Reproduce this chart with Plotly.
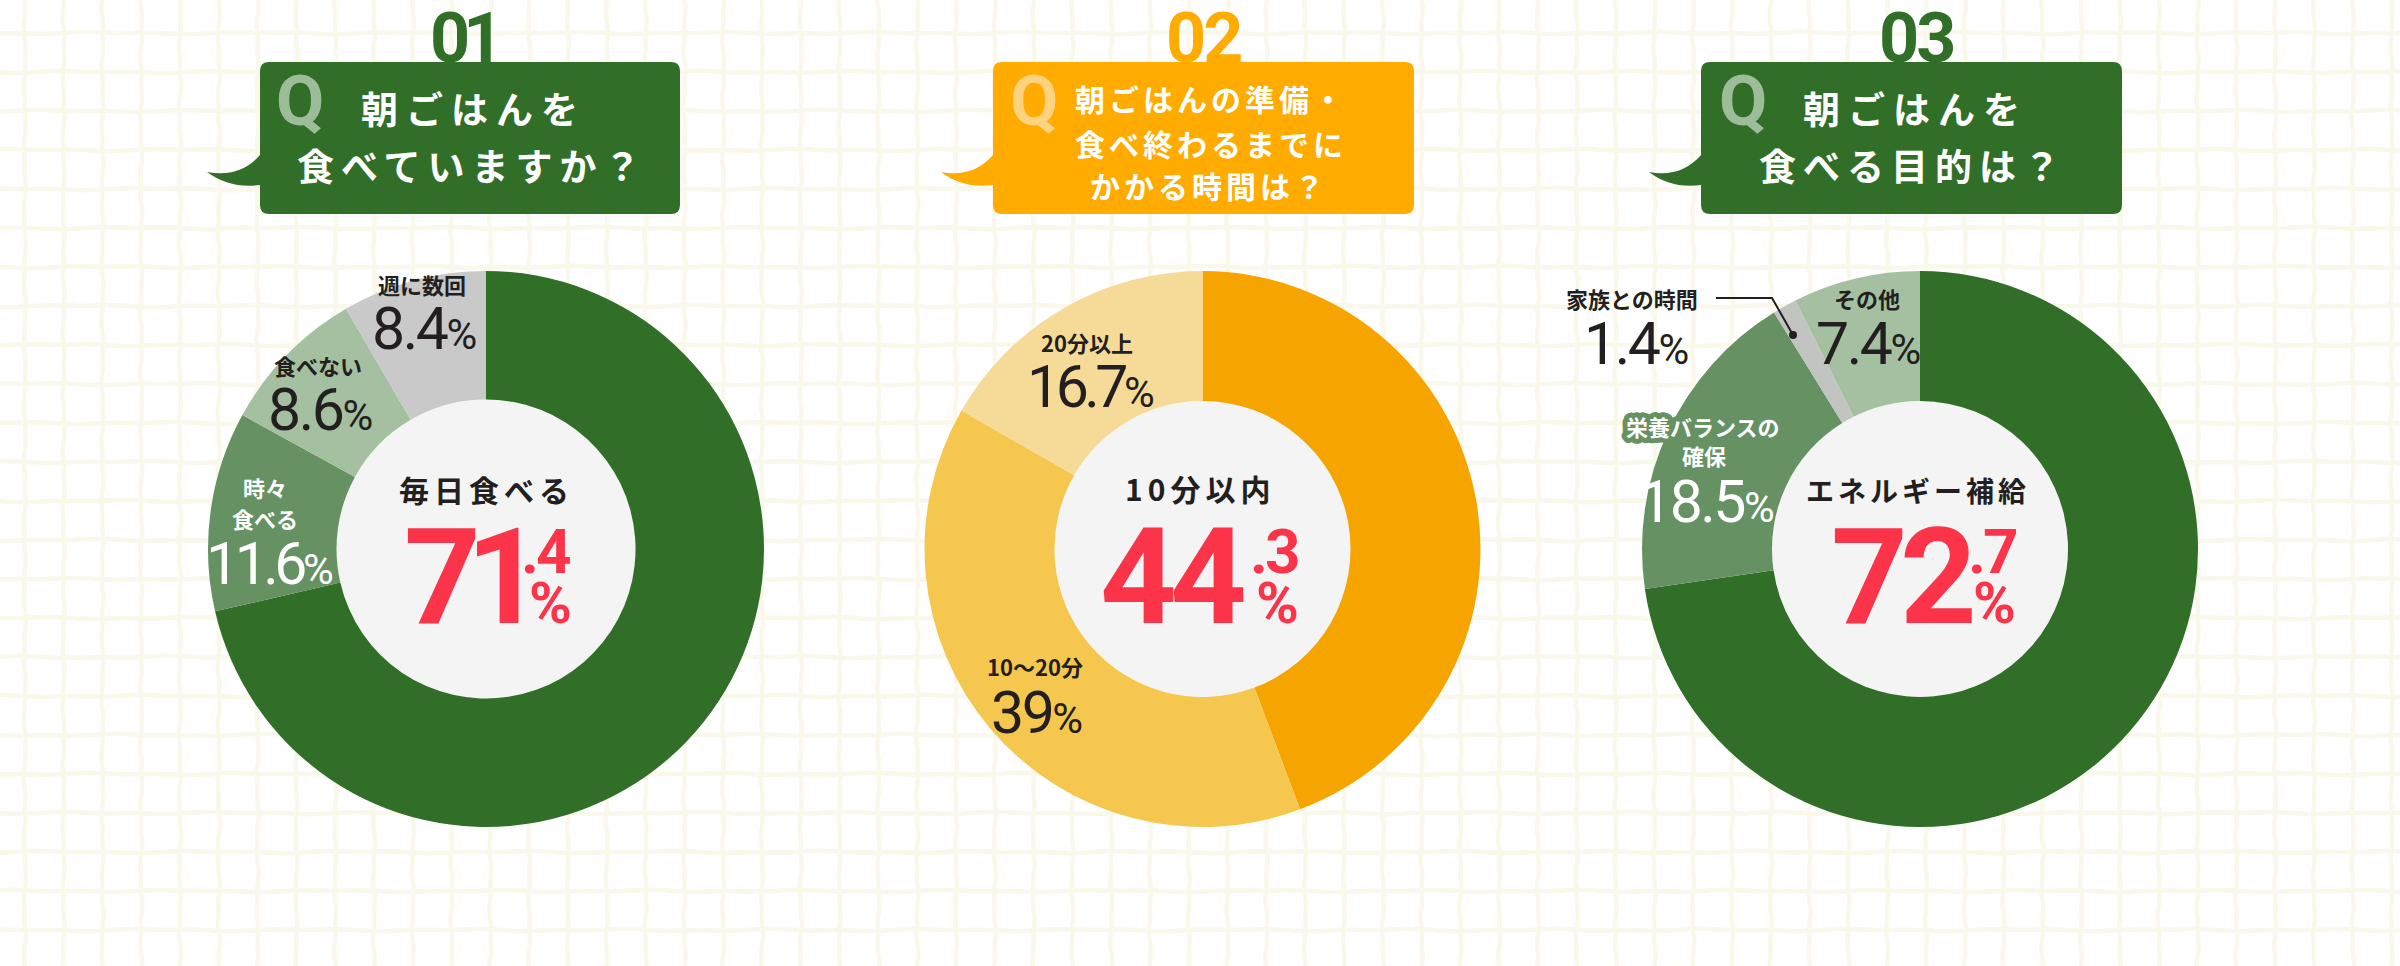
import numpy as np
import plotly.graph_objects as go

W, H = 2400, 966
CJK = "Noto Sans CJK JP"
NUM = "Roboto"
INK = "#231f20"
RED = "#fb344a"

# values
q1_labels = ["毎日食べる", "時々食べる", "食べない", "週に数回"]
q1_values = [71.4, 11.6, 8.6, 8.4]
q2_labels = ["10分以内", "10〜20分", "20分以上"]
q2_values = [44.3, 39, 16.7]
q3_labels = ["エネルギー補給", "栄養バランスの確保", "家族との時間", "その他"]
q3_values = [72.7, 18.5, 1.4, 7.4]

q1_colors = ["#316f28", "#659163", "#a4c0a1", "#c9c9c9"]
q2_colors = ["#f6a500", "#f5c74f", "#f6db98"]
q3_colors = ["#316f28", "#659163", "#c2c4c1", "#a4c0a1"]


def fx(x):
    return x / W


def fy(y):
    return 1 - y / H


def wobble(n, seed):
    # hand drawn look of the paper grid
    t = np.linspace(0, 1, n)
    return 0.7 * np.sin(t * 97 + seed) + 0.5 * np.sin(t * 211 + seed * 2.3)


def grid_path():
    parts = []
    for i, x0 in enumerate(np.arange(-14, W + 40, 38.8)):
        ys = np.linspace(0, H, 160)
        xs = x0 + wobble(160, i + 1)
        parts.append("M" + " L".join(f"{fx(a):.5f},{fy(b):.5f}" for a, b in zip(xs, ys)))
    for i, y0 in enumerate(np.arange(33, H + 40, 39)):
        xs = np.linspace(0, W, 400)
        ys = y0 + wobble(400, i + 7)
        parts.append("M" + " L".join(f"{fx(a):.5f},{fy(b):.5f}" for a, b in zip(xs, ys)))
    return " ".join(parts)


def bubble(x0, x1, tip_x, color):
    y0, y1, r = 62, 214, 9
    p = (
        f"M{fx(x0 + r)},{fy(y0)} L{fx(x1 - r)},{fy(y0)} Q{fx(x1)},{fy(y0)} {fx(x1)},{fy(y0 + r)} "
        f"L{fx(x1)},{fy(y1 - r)} Q{fx(x1)},{fy(y1)} {fx(x1 - r)},{fy(y1)} "
        f"L{fx(x0 + r)},{fy(y1)} Q{fx(x0)},{fy(y1)} {fx(x0)},{fy(y1 - r)} "
        f"L{fx(x0)},{fy(185)} Q{fx(x0 - 30)},{fy(189)} {fx(tip_x)},{fy(172)} "
        f"Q{fx(x0 - 20)},{fy(178)} {fx(x0)},{fy(155)} "
        f"L{fx(x0)},{fy(y0 + r)} Q{fx(x0)},{fy(y0)} {fx(x0 + r)},{fy(y0)} Z"
    )
    return dict(type="path", path=p, xref="paper", yref="paper", fillcolor=color, line_width=0, layer="below")


def hole(cx, r, cy=549):
    return dict(type="circle", xref="paper", yref="paper", x0=fx(cx - r), x1=fx(cx + r),
                y0=fy(cy + r), y1=fy(cy - r), fillcolor="#f4f4f4", line_width=0, layer="below")


def label(x, y, text, size=22, color=INK, font=CJK, bold=True):
    if bold:
        text = f"<b>{text}</b>"
    return dict(x=fx(x), y=fy(y), xref="paper", yref="paper", text=text, showarrow=False,
                xanchor="center", yanchor="middle", align="center",
                font=dict(family=font, size=size, color=color))


def spaced(text, gap):
    return f'<span style="letter-spacing:{gap}px">{text}</span>'


def pct(x, y, num, color=INK, gap=-2.5):
    text = spaced(f'{num}<span style="font-size:42px">%</span>', gap)
    return label(x, y, text, size=59, color=color, font=NUM, bold=False)


fig = go.Figure()
for vals, cols, names, cx, r in [
    (q1_values, q1_colors, q1_labels, 486, 149.5),
    (q2_values, q2_colors, q2_labels, 1202.5, 148),
    (q3_values, q3_colors, q3_labels, 1920, 148),
]:
    fig.add_trace(go.Pie(
        values=vals, labels=names, hole=r / 278, sort=False, direction="clockwise", rotation=0,
        marker=dict(colors=cols, line=dict(width=0)), textinfo="none", hoverinfo="label+value",
        domain=dict(x=[fx(cx - 278), fx(cx + 278)], y=[fy(827), fy(271)]),
        showlegend=False,
    ))

shapes = [
    dict(type="path", path=grid_path(), xref="paper", yref="paper",
         line=dict(color="#faf8ea", width=4.5), layer="below"),
    hole(486, 149.5), hole(1202.5, 148), hole(1920, 148),
    bubble(260, 680, 207, "#316f28"),
    bubble(993, 1414, 941, "#ffab00"),
    bubble(1701, 2122, 1649, "#316f28"),
    dict(type="path", xref="paper", yref="paper", line=dict(color=INK, width=2),
         path=f"M{fx(1716)},{fy(298)} L{fx(1772)},{fy(298)} L{fx(1793)},{fy(335)}"),
    dict(type="circle", xref="paper", yref="paper", x0=fx(1789), x1=fx(1797), y0=fy(339), y1=fy(331),
         fillcolor=INK, line_width=0),
]

annotations = [
    # numbers above the bubbles
    label(463, 38, spaced("01", -7), size=70, color="#316f28", font=NUM),
    label(1203, 38, spaced("02", -3), size=70, color="#ffab00", font=NUM),
    label(1916, 38, spaced("03", -3), size=70, color="#316f28", font=NUM),
    # Q marks
    label(300, 101, "Q", size=70, color="#9dbd9a", font=NUM),
    label(1034, 101, "Q", size=70, color="#fed27f", font=NUM),
    label(1743, 101, "Q", size=70, color="#9dbd9a", font=NUM),
    # questions
    label(473, 108, spaced("朝ごはんを", 8), size=37, color="white"),
    label(472, 165, spaced("食べていますか？", 7), size=37, color="white"),
    label(1211, 98, spaced("朝ごはんの準備・", 4), size=30, color="white"),
    label(1211, 143, spaced("食べ終わるまでに", 4), size=30, color="white"),
    label(1209, 185, spaced("かかる時間は？", 4), size=30, color="white"),
    label(1915, 108, spaced("朝ごはんを", 8), size=37, color="white"),
    label(1913, 165, spaced("食べる目的は？", 7), size=37, color="white"),
    # q1
    label(422, 284, "週に数回"),
    pct(423, 329, "8.4"),
    label(318, 365, "食べない"),
    pct(319, 410, "8.6"),
    label(265, 487, "時々", color="white"),
    label(265, 518, "食べる", color="white"),
    pct(269, 563, "11.6", color="white", gap=-4.5),
    label(486, 489, spaced("毎日食べる", 5), size=30),
    label(466, 577, spaced("71", -15), size=134, color=RED, font=NUM),
    label(545, 551, spaced(".4", -3), size=62, color=RED, font=NUM),
    label(550, 603, "%", size=58, color=RED, font=NUM),
    # q2
    label(1087, 342, "20分以上"),
    pct(1090, 386, "16.7", gap=-4.5),
    label(1035, 666, "10〜20分"),
    pct(1036, 712, "39"),
    label(1200, 488, spaced("10分以内", 5), size=30),
    label(1172, 577, spaced("44", -7), size=134, color=RED, font=NUM),
    label(1274, 551, spaced(".3", -3), size=62, color=RED, font=NUM),
    label(1277, 603, "%", size=58, color=RED, font=NUM),
    # q3
    label(1632, 298, "家族との時間"),
    pct(1635, 344, "1.4"),
    label(1867, 298, "その他"),
    pct(1867, 344, "7.4"),
    label(1703, 426, '<span style="stroke:#659163;stroke-width:10px;stroke-linejoin:round;paint-order:stroke">栄養バランスの</span>', color="white"),
    label(1704, 455, "確保", color="white"),
    pct(1706, 501, "18.5", color="white"),
    label(1918, 490, spaced("エネルギー補給", 4), size=28),
    label(1901, 577, spaced("72", -8), size=134, color=RED, font=NUM),
    label(1992, 551, spaced(".7", -3), size=62, color=RED, font=NUM),
    label(1994, 603, "%", size=58, color=RED, font=NUM),
]

fig.update_layout(
    width=W, height=H, margin=dict(l=0, r=0, t=0, b=0),
    paper_bgcolor="white", plot_bgcolor="white",
    shapes=shapes, annotations=annotations,
)
fig.write_html("out.html", config={"displayModeBar": False},
               post_script="document.body.style.margin='0';document.body.style.overflow='hidden';")
